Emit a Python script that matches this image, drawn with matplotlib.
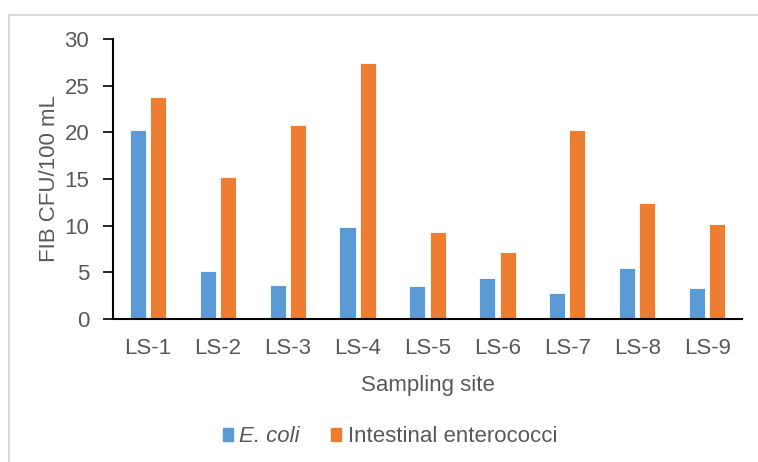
import matplotlib.pyplot as plt
import numpy as np
from matplotlib.lines import Line2D
from matplotlib.patches import Patch

plt.rcParams['font.family'] = ['Liberation Sans', 'DejaVu Sans']

sites = ["LS-1", "LS-2", "LS-3", "LS-4", "LS-5", "LS-6", "LS-7", "LS-8", "LS-9"]
e_coli = [20.2, 5.1, 3.6, 9.9, 3.5, 4.4, 2.75, 5.5, 3.3]
enterococci = [23.8, 15.2, 20.8, 27.4, 9.3, 7.2, 20.25, 12.4, 10.2]

blue = "#5B9BD5"
orange = "#ED7D31"
grey = "#595959"
fs = 16

fig = plt.figure(figsize=(7.58, 4.62), dpi=100)
ax = fig.add_axes([0.149, 0.3095, 0.830, 0.6061])

x = np.arange(len(sites))
w = 0.23
ax.bar(x - w / 2 - 0.03, e_coli, w, color=blue, edgecolor="white", linewidth=0.6)
ax.bar(x + w / 2 + 0.03, enterococci, w, color=orange, edgecolor="white", linewidth=0.6)

ax.set_xlim(-0.5, len(sites) - 0.5)
ax.set_ylim(0, 30)
ax.set_yticks(range(0, 31, 5))
ax.set_xticks(x)
ax.set_xticklabels(sites)
ax.tick_params(axis="x", length=0, pad=14, labelsize=fs, labelcolor=grey)
ax.tick_params(axis="y", length=7, width=1.2, pad=10, labelsize=fs, labelcolor=grey)
for s in ["top", "right"]:
    ax.spines[s].set_visible(False)
ax.spines["left"].set_linewidth(1.5)
ax.spines["bottom"].set_linewidth(1.5)

ax.set_ylabel("FIB CFU/100 mL", fontsize=fs, color=grey, labelpad=3)
ax.set_xlabel("Sampling site", fontsize=fs, color=grey, labelpad=11)

handles = [Patch(color=blue), Patch(color=orange)]
leg = fig.legend(handles, ["E. coli", "Intestinal enterococci"], loc="center",
                 bbox_to_anchor=(390 / 758, 1 - 437 / 462), ncol=2, frameon=False,
                 fontsize=fs, handlelength=0.45, handleheight=0.5,
                 handletextpad=0.3, columnspacing=1.4)
for t in leg.get_texts():
    t.set_color(grey)
leg.get_texts()[0].set_style("italic")

# light frame around the chart area
fig.add_artist(Line2D([9 / 758, 1], [1 - 15 / 462] * 2, color="#d9d9d9", lw=1.5))
fig.add_artist(Line2D([9 / 758] * 2, [0, 1 - 15 / 462], color="#d9d9d9", lw=1.5))

fig.savefig("out.png", dpi=100)
